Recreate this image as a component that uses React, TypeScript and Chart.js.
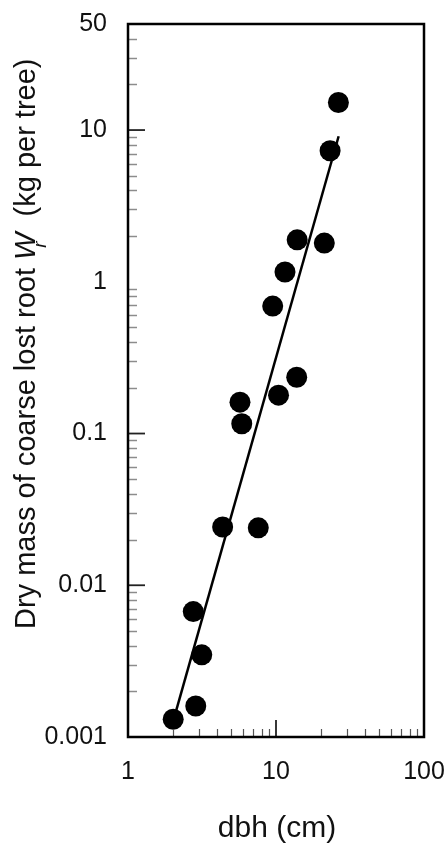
import React, { useEffect, useRef } from 'react';
import { Chart, registerables } from 'chart.js';

Chart.register(...registerables);

// Observed trees: stem diameter (cm) and dry mass of coarse lost root (kg per tree)
const dbh = [2.02, 2.87, 3.15, 2.76, 4.36, 7.59, 5.71, 5.87, 10.4, 13.8, 9.5, 11.5, 13.9, 21.2, 23.2, 26.4];
const rootMass = [0.00131, 0.0016, 0.00348, 0.00671, 0.0242, 0.0239, 0.161, 0.116, 0.179, 0.235, 0.692, 1.16, 1.89, 1.8, 7.3, 15.2];

// Fitted power-law line endpoints
const fitDbh = [2.0, 26.5];
const fitMass = [0.00123, 9.1];

// Axis labels / marks
const xTickValues = [1, 10, 100];
const yTickValues = [0.001, 0.01, 0.1, 1, 10, 50];
const xMajorMarks = [10];
const yMajorMarks = [0.01, 0.1, 10];
const xDecades = [1, 10];
const yDecades = [0.001, 0.01, 0.1, 1, 10];

const FONT = '"Liberation Sans", Arial, Helvetica, sans-serif';

const minorMarks = (decades: number[], max: number) => {
  const out: number[] = [];
  decades.forEach((d) => {
    for (let k = 2; k <= 9; k++) {
      const v = d * k;
      if (v < max) out.push(v);
    }
  });
  return out;
};

const zeroPadding = (s: any) => {
  s.paddingLeft = 0;
  s.paddingRight = 0;
  s.paddingTop = 0;
  s.paddingBottom = 0;
};

const framePlugin = {
  id: 'frameTicks',
  afterDraw(chart: any) {
    const { ctx, chartArea } = chart;
    const xs = chart.scales.x;
    const ys = chart.scales.y;
    const { left, right, top, bottom } = chartArea;
    ctx.save();
    // minor y ticks
    ctx.strokeStyle = '#8c8c8c';
    ctx.lineWidth = 1.5;
    minorMarks(yDecades, 50).forEach((v) => {
      const y = Math.round(ys.getPixelForValue(v)) + 0.5;
      ctx.beginPath();
      ctx.moveTo(left, y);
      ctx.lineTo(left + 9, y);
      ctx.stroke();
    });
    // minor x ticks
    ctx.strokeStyle = '#555';
    ctx.lineWidth = 1.2;
    minorMarks(xDecades, 100).forEach((v) => {
      const x = Math.round(xs.getPixelForValue(v)) + 0.5;
      ctx.beginPath();
      ctx.moveTo(x, bottom);
      ctx.lineTo(x, bottom - 8);
      ctx.stroke();
    });
    // major ticks
    ctx.strokeStyle = '#222';
    ctx.lineWidth = 1.8;
    yMajorMarks.forEach((v) => {
      const y = ys.getPixelForValue(v);
      ctx.beginPath();
      ctx.moveTo(left, y);
      ctx.lineTo(left + 17, y);
      ctx.stroke();
    });
    xMajorMarks.forEach((v) => {
      const x = xs.getPixelForValue(v);
      ctx.beginPath();
      ctx.moveTo(x, bottom);
      ctx.lineTo(x, bottom - 17);
      ctx.stroke();
    });
    // frame
    ctx.strokeStyle = '#000';
    ctx.lineWidth = 2.5;
    ctx.strokeRect(left, top, right - left, bottom - top);

    // x title
    ctx.fillStyle = '#111';
    ctx.font = `30px ${FONT}`;
    ctx.textAlign = 'center';
    ctx.textBaseline = 'alphabetic';
    ctx.fillText('dbh (cm)', (left + right) / 2 + 1, 837);

    // y title (rotated, with italic W and subscript r)
    ctx.translate(35, 629);
    ctx.rotate(-Math.PI / 2);
    ctx.textAlign = 'left';
    ctx.font = `29px ${FONT}`;
    const part1 = 'Dry mass of coarse lost root ';
    ctx.fillText(part1, 0, 0);
    const w1 = ctx.measureText(part1).width;
    ctx.font = `italic 29px ${FONT}`;
    ctx.fillText('W', w1, 0);
    const wW = ctx.measureText('W').width;
    ctx.font = `italic 19px ${FONT}`;
    ctx.fillText('r', w1 + wW * 0.45, 11);
    ctx.font = `29px ${FONT}`;
    const sp = ctx.measureText('  ').width;
    ctx.fillText('(kg per tree)', w1 + wW + sp, 0);
    ctx.restore();
  },
};

export default function App() {
  const ref = useRef<HTMLCanvasElement | null>(null);

  useEffect(() => {
    if (!ref.current) return;
    const points = dbh.map((x, i) => ({ x, y: rootMass[i] }));
    const fit = fitDbh.map((x, i) => ({ x, y: fitMass[i] }));
    const chart = new Chart(ref.current, {
      type: 'scatter',
      data: {
        datasets: [
          {
            type: 'line',
            data: fit,
            borderColor: '#000',
            borderWidth: 2.5,
            pointRadius: 0,
            fill: false,
            order: 2,
          } as any,
          {
            data: points,
            backgroundColor: '#000',
            borderColor: '#000',
            borderWidth: 0,
            pointRadius: 10.5,
            pointHoverRadius: 10.5,
            order: 1,
          },
        ],
      },
      options: {
        animation: false,
        responsive: false,
        devicePixelRatio: 1,
        events: [],
        layout: { padding: { top: 24, right: 22, left: 0, bottom: 0 } },
        plugins: {
          legend: { display: false },
          tooltip: { enabled: false },
        },
        scales: {
          x: {
            type: 'logarithmic',
            position: 'bottom',
            min: 1,
            max: 100,
            grid: { display: false, drawTicks: false },
            border: { display: false },
            ticks: {
              color: '#111',
              font: { size: 25, family: FONT },
              padding: 20,
              maxRotation: 0,
              autoSkip: false,
              callback: (v: any) => String(v),
            },
            afterBuildTicks: (s: any) => {
              s.ticks = xTickValues.map((value) => ({ value }));
            },
            afterFit: (s: any) => {
              s.height = 106;
              zeroPadding(s);
            },
          },
          y: {
            type: 'logarithmic',
            position: 'left',
            min: 0.001,
            max: 50,
            grid: { display: false, drawTicks: false },
            border: { display: false },
            ticks: {
              color: '#111',
              font: { size: 25, family: FONT },
              padding: 21,
              autoSkip: false,
              callback: (v: any) => String(v),
            },
            afterBuildTicks: (s: any) => {
              s.ticks = yTickValues.map((value) => ({ value }));
            },
            afterFit: (s: any) => {
              s.width = 128;
              zeroPadding(s);
            },
          },
        },
      } as any,
      plugins: [framePlugin],
    });
    return () => chart.destroy();
  }, []);

  return (
    <div style={{ position: 'absolute', left: 0, top: 0, width: 446, height: 843, background: '#fff' }}>
      <canvas ref={ref} width={446} height={843} style={{ display: 'block', width: 446, height: 843 }} />
    </div>
  );
}
